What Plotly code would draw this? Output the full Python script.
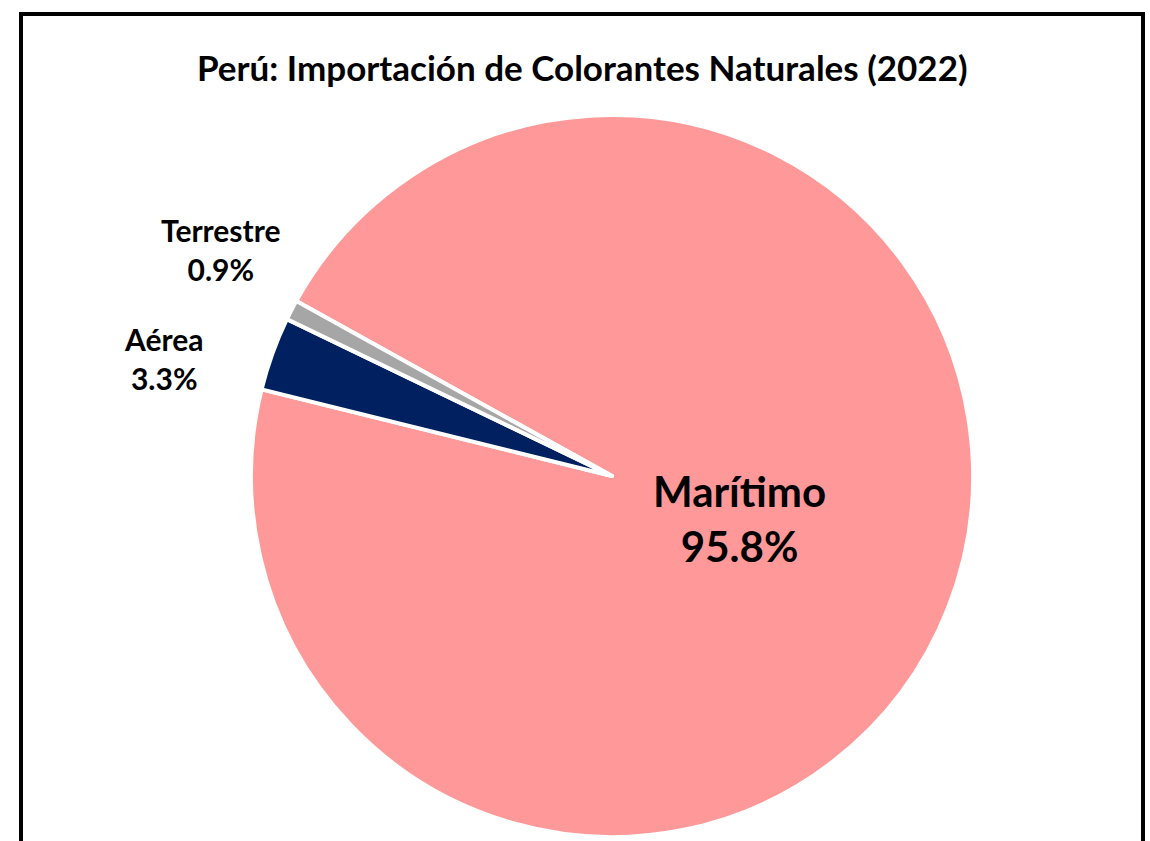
import plotly.graph_objects as go

labels = ["Marítimo", "Aérea", "Terrestre"]
values = [95.8, 3.3, 0.9]
colors = ["#FF9999", "#002060", "#A6A6A6"]
title_text = "Perú: Importación de Colorantes Naturales (2022)"

W, H = 1150, 841
cx, cy, r = 612, 476, 361

fig = go.Figure(go.Pie(
    labels=labels,
    values=values,
    sort=False,
    direction="clockwise",
    rotation=-61,
    marker=dict(colors=colors, line=dict(color="white", width=4)),
    textinfo="none",
    hoverinfo="label+percent",
    showlegend=False,
    domain=dict(x=[(cx - r) / W, (cx + r) / W], y=[1 - (cy + r) / H, 1 - (cy - r) / H]),
))

def fmt(v):
    return f"{v:.1f}%"

# label positions (pixels) and font sizes
label_pos = [(739, 518, 42), (163, 358, 30), (221, 250, 30)]
for lab, val, (x, y, s) in zip(labels, values, label_pos):
    fig.add_annotation(
        x=x / W, y=1 - y / H, xref="paper", yref="paper",
        text=f"<b>{lab}<br>{fmt(val)}</b>", showarrow=False,
        font=dict(family="Lato", size=s, color="black"),
        align="center", xanchor="center", yanchor="middle",
    )

fig.add_annotation(
    x=582 / W, y=1 - 67 / H, xref="paper", yref="paper",
    text=f"<b>{title_text}</b>", showarrow=False,
    font=dict(family="Lato", size=35, color="black"),
    xanchor="center", yanchor="middle",
)

# chart frame
fig.add_shape(type="rect", xref="paper", yref="paper",
              x0=21 / W, x1=1143 / W, y0=-0.05, y1=1 - 14 / H,
              line=dict(color="black", width=4), fillcolor="rgba(0,0,0,0)")

fig.update_layout(
    width=W, height=H,
    margin=dict(l=0, r=0, t=0, b=0),
    paper_bgcolor="white", plot_bgcolor="white",
)

fig.write_html("out.html", config={"displayModeBar": False},
               post_script="document.body.style.margin='0';document.body.style.overflow='hidden';")
